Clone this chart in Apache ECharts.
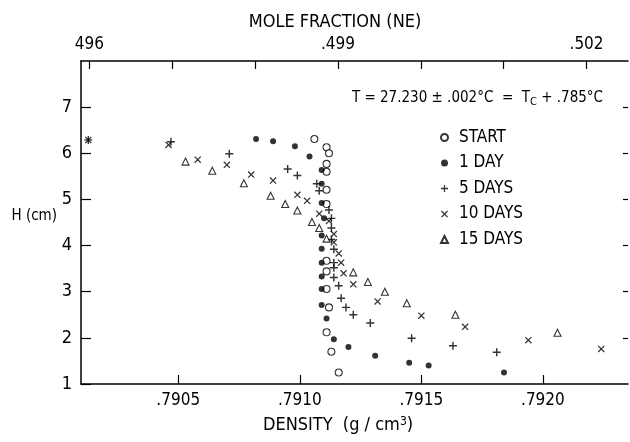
<!DOCTYPE html>
<html>
<head>
<meta charset="utf-8">
<script src="https://cdn.jsdelivr.net/npm/echarts@6/dist/echarts.min.js"></script>
<style>
  html, body { margin: 0; padding: 0; background: #fff; }
  #chart { width: 630px; height: 442px; }
</style>
</head>
<body>
<div id="chart"></div>
<script>
// density (g/cm3), height H (cm)
const startPts = [
  [0.79106, 6.31], [0.79111, 6.13], [0.79112, 6.00], [0.79111, 5.77], [0.79111, 5.60],
  [0.79111, 5.21], [0.79111, 4.90], [0.79111, 3.67], [0.79111, 3.44], [0.79111, 3.06],
  [0.79112, 2.66], [0.79111, 2.12], [0.79113, 1.70], [0.79116, 1.25]
];
const day1Pts = [
  [0.79082, 6.31], [0.79089, 6.26], [0.79098, 6.15], [0.79104, 5.93], [0.79109, 5.64],
  [0.79109, 5.34], [0.79109, 4.92], [0.79110, 4.59], [0.79109, 4.22], [0.79109, 3.93],
  [0.79109, 3.63], [0.79109, 3.33], [0.79109, 3.06], [0.79109, 2.71], [0.79111, 2.42],
  [0.79114, 1.97], [0.79120, 1.80], [0.79131, 1.61], [0.79145, 1.46], [0.79153, 1.40],
  [0.79184, 1.25]
];
const day5Pts = [
  [0.79013, 6.29], [0.79047, 6.25], [0.79071, 5.99], [0.79095, 5.66], [0.79099, 5.52],
  [0.79107, 5.34], [0.79108, 5.19], [0.79112, 4.77], [0.79113, 4.59], [0.79113, 4.38],
  [0.79113, 4.13], [0.79114, 3.92], [0.79114, 3.63], [0.79114, 3.52], [0.79114, 3.31],
  [0.79116, 3.13], [0.79117, 2.86], [0.79119, 2.66], [0.79122, 2.50], [0.79129, 2.32],
  [0.79146, 1.99], [0.79163, 1.83], [0.79181, 1.69]
];
const day10Pts = [
  [0.79013, 6.29], [0.79046, 6.18], [0.79058, 5.86], [0.79070, 5.75], [0.79080, 5.54],
  [0.79089, 5.41], [0.79099, 5.10], [0.79103, 4.97], [0.79108, 4.69], [0.79112, 4.53],
  [0.79114, 4.25], [0.79114, 4.07], [0.79116, 3.83], [0.79117, 3.63], [0.79118, 3.40],
  [0.79122, 3.16], [0.79132, 2.79], [0.79150, 2.48], [0.79168, 2.24], [0.79194, 1.95],
  [0.79224, 1.76]
];
const day15Pts = [
  [0.79053, 5.82], [0.79064, 5.62], [0.79077, 5.35], [0.79088, 5.08], [0.79094, 4.90],
  [0.79099, 4.76], [0.79105, 4.51], [0.79108, 4.38], [0.79111, 4.15], [0.79122, 3.42],
  [0.79128, 3.21], [0.79135, 3.00], [0.79144, 2.75], [0.79164, 2.50], [0.79206, 2.11]
];

const densityTicks = [0.7905, 0.7910, 0.7915, 0.7920];
const moleTicks = [0.496, 0.497, 0.498, 0.499, 0.500, 0.501, 0.502];
const moleLabelValues = [0.496, 0.499, 0.502];
const moleLabelText = ['496', '.499', '.502'];
const hTicks = [1, 2, 3, 4, 5, 6, 7];
const seriesNames = ['START', '1 DAY', '5 DAYS', '10 DAYS', '15 DAYS'];

const FONT = '"Liberation Sans Narrow", "DejaVu Sans Condensed", "Roboto", sans-serif';
const PLUS = 'path://M-0.18,-1H0.18V-0.18H1V0.18H0.18V1H-0.18V0.18H-1V-0.18H-0.18Z';
const CROSS = 'path://M-1,-0.75L-0.75,-1L1,0.75L0.75,1ZM0.75,-1L1,-0.75L-0.75,1L-1,0.75Z';

const chart = echarts.init(document.getElementById('chart'), null, { renderer: 'canvas' });

const axisLine = { show: true, lineStyle: { color: '#000', width: 1.5 } };

function scatter(name, data, symbol, size, filled) {
  return {
    name: name,
    type: 'scatter',
    data: data,
    symbol: symbol,
    symbolSize: size,
    xAxisIndex: 0,
    yAxisIndex: 0,
    itemStyle: filled
      ? { color: '#000', borderWidth: 0 }
      : { color: '#fff', borderColor: '#000', borderWidth: 1.1 },
    emphasis: { disabled: true }
  };
}

function moleLabel(v) {
  const i = moleLabelValues.findIndex(m => Math.abs(m - v) < 1e-6);
  return i < 0 ? '' : moleLabelText[i];
}

chart.setOption({
  animation: false,
  textStyle: { fontFamily: FONT, color: '#000' },
  grid: { left: 81, top: 61, right: 2, bottom: 58, containLabel: false },
  xAxis: [
    {
      type: 'value',
      position: 'bottom',
      min: 0.7901,
      max: 0.79235,
      axisLine: axisLine,
      splitLine: { show: false },
      axisTick: { inside: true, length: 9, lineStyle: { color: '#000', width: 1.2 }, customValues: densityTicks },
      axisLabel: {
        customValues: densityTicks,
        margin: 8,
        fontSize: 17,
        color: '#000',
        fontFamily: FONT,
        formatter: v => v.toFixed(4).replace(/^0/, '')
      }
    },
    {
      type: 'value',
      position: 'top',
      min: 0.4959,
      max: 0.5025,
      axisLine: axisLine,
      splitLine: { show: false },
      axisTick: { inside: true, length: 8, lineStyle: { color: '#000', width: 1.2 }, customValues: moleTicks },
      axisLabel: {
        customValues: moleLabelValues,
        margin: 8,
        fontSize: 17,
        color: '#000',
        fontFamily: FONT,
        formatter: moleLabel
      }
    }
  ],
  yAxis: [
    {
      type: 'value',
      position: 'left',
      min: 1,
      max: 8,
      axisLine: axisLine,
      splitLine: { show: false },
      axisTick: { inside: true, length: 10, lineStyle: { color: '#000', width: 1.2 }, customValues: hTicks },
      axisLabel: { customValues: hTicks, margin: 9, fontSize: 18, color: '#000', fontFamily: FONT }
    },
    {
      type: 'value',
      position: 'right',
      min: 1,
      max: 8,
      axisLine: { show: false },
      splitLine: { show: false },
      axisTick: { show: true, inside: true, length: 5, lineStyle: { color: '#000', width: 1.2 }, customValues: [2, 3, 4, 5, 6, 7] },
      axisLabel: { show: false }
    }
  ],
  legend: {
    data: seriesNames,
    orient: 'vertical',
    left: 440,
    top: 129,
    itemGap: 8.5,
    itemWidth: 7,
    itemHeight: 7,
    padding: 0,
    selectedMode: false,
    textStyle: { fontSize: 17, color: '#000', fontFamily: FONT, padding: [0, 0, 0, 6] }
  },
  graphic: [
    {
      type: 'text', x: 335, y: 22,
      style: { text: 'MOLE FRACTION (NE)', font: '18px ' + FONT, fill: '#000', textAlign: 'center', textVerticalAlign: 'middle' }
    },
    {
      type: 'text', x: 338, y: 425,
      style: {
        text: 'DENSITY  (g / cm{sup|3})',
        font: '18px ' + FONT, fill: '#000', textAlign: 'center', textVerticalAlign: 'middle',
        rich: { sup: { fontSize: 12, fontFamily: FONT, verticalAlign: 'top', padding: [0, 0, 7, 0] } }
      }
    },
    {
      type: 'text', x: 57, y: 216,
      style: { text: 'H (cm)', font: '15px ' + FONT, fill: '#000', textAlign: 'right', textVerticalAlign: 'middle' }
    },
    {
      type: 'text', x: 603, y: 98,
      style: {
        text: 'T = 27.230 \u00b1 .002\u00b0C  =  T{sub|C} + .785\u00b0C',
        font: '15px ' + FONT, fill: '#000', textAlign: 'right', textVerticalAlign: 'middle',
        rich: { sub: { fontSize: 11, fontFamily: FONT, padding: [8, 0, 0, 0] } }
      }
    }
  ],
  series: [
    scatter('START', startPts, 'circle', 7, false),
    scatter('1 DAY', day1Pts, 'circle', 6, true),
    scatter('5 DAYS', day5Pts, PLUS, 8, true),
    scatter('10 DAYS', day10Pts, CROSS, 7, true),
    scatter('15 DAYS', day15Pts, 'triangle', 7, false)
  ]
});
</script>
</body>
</html>
